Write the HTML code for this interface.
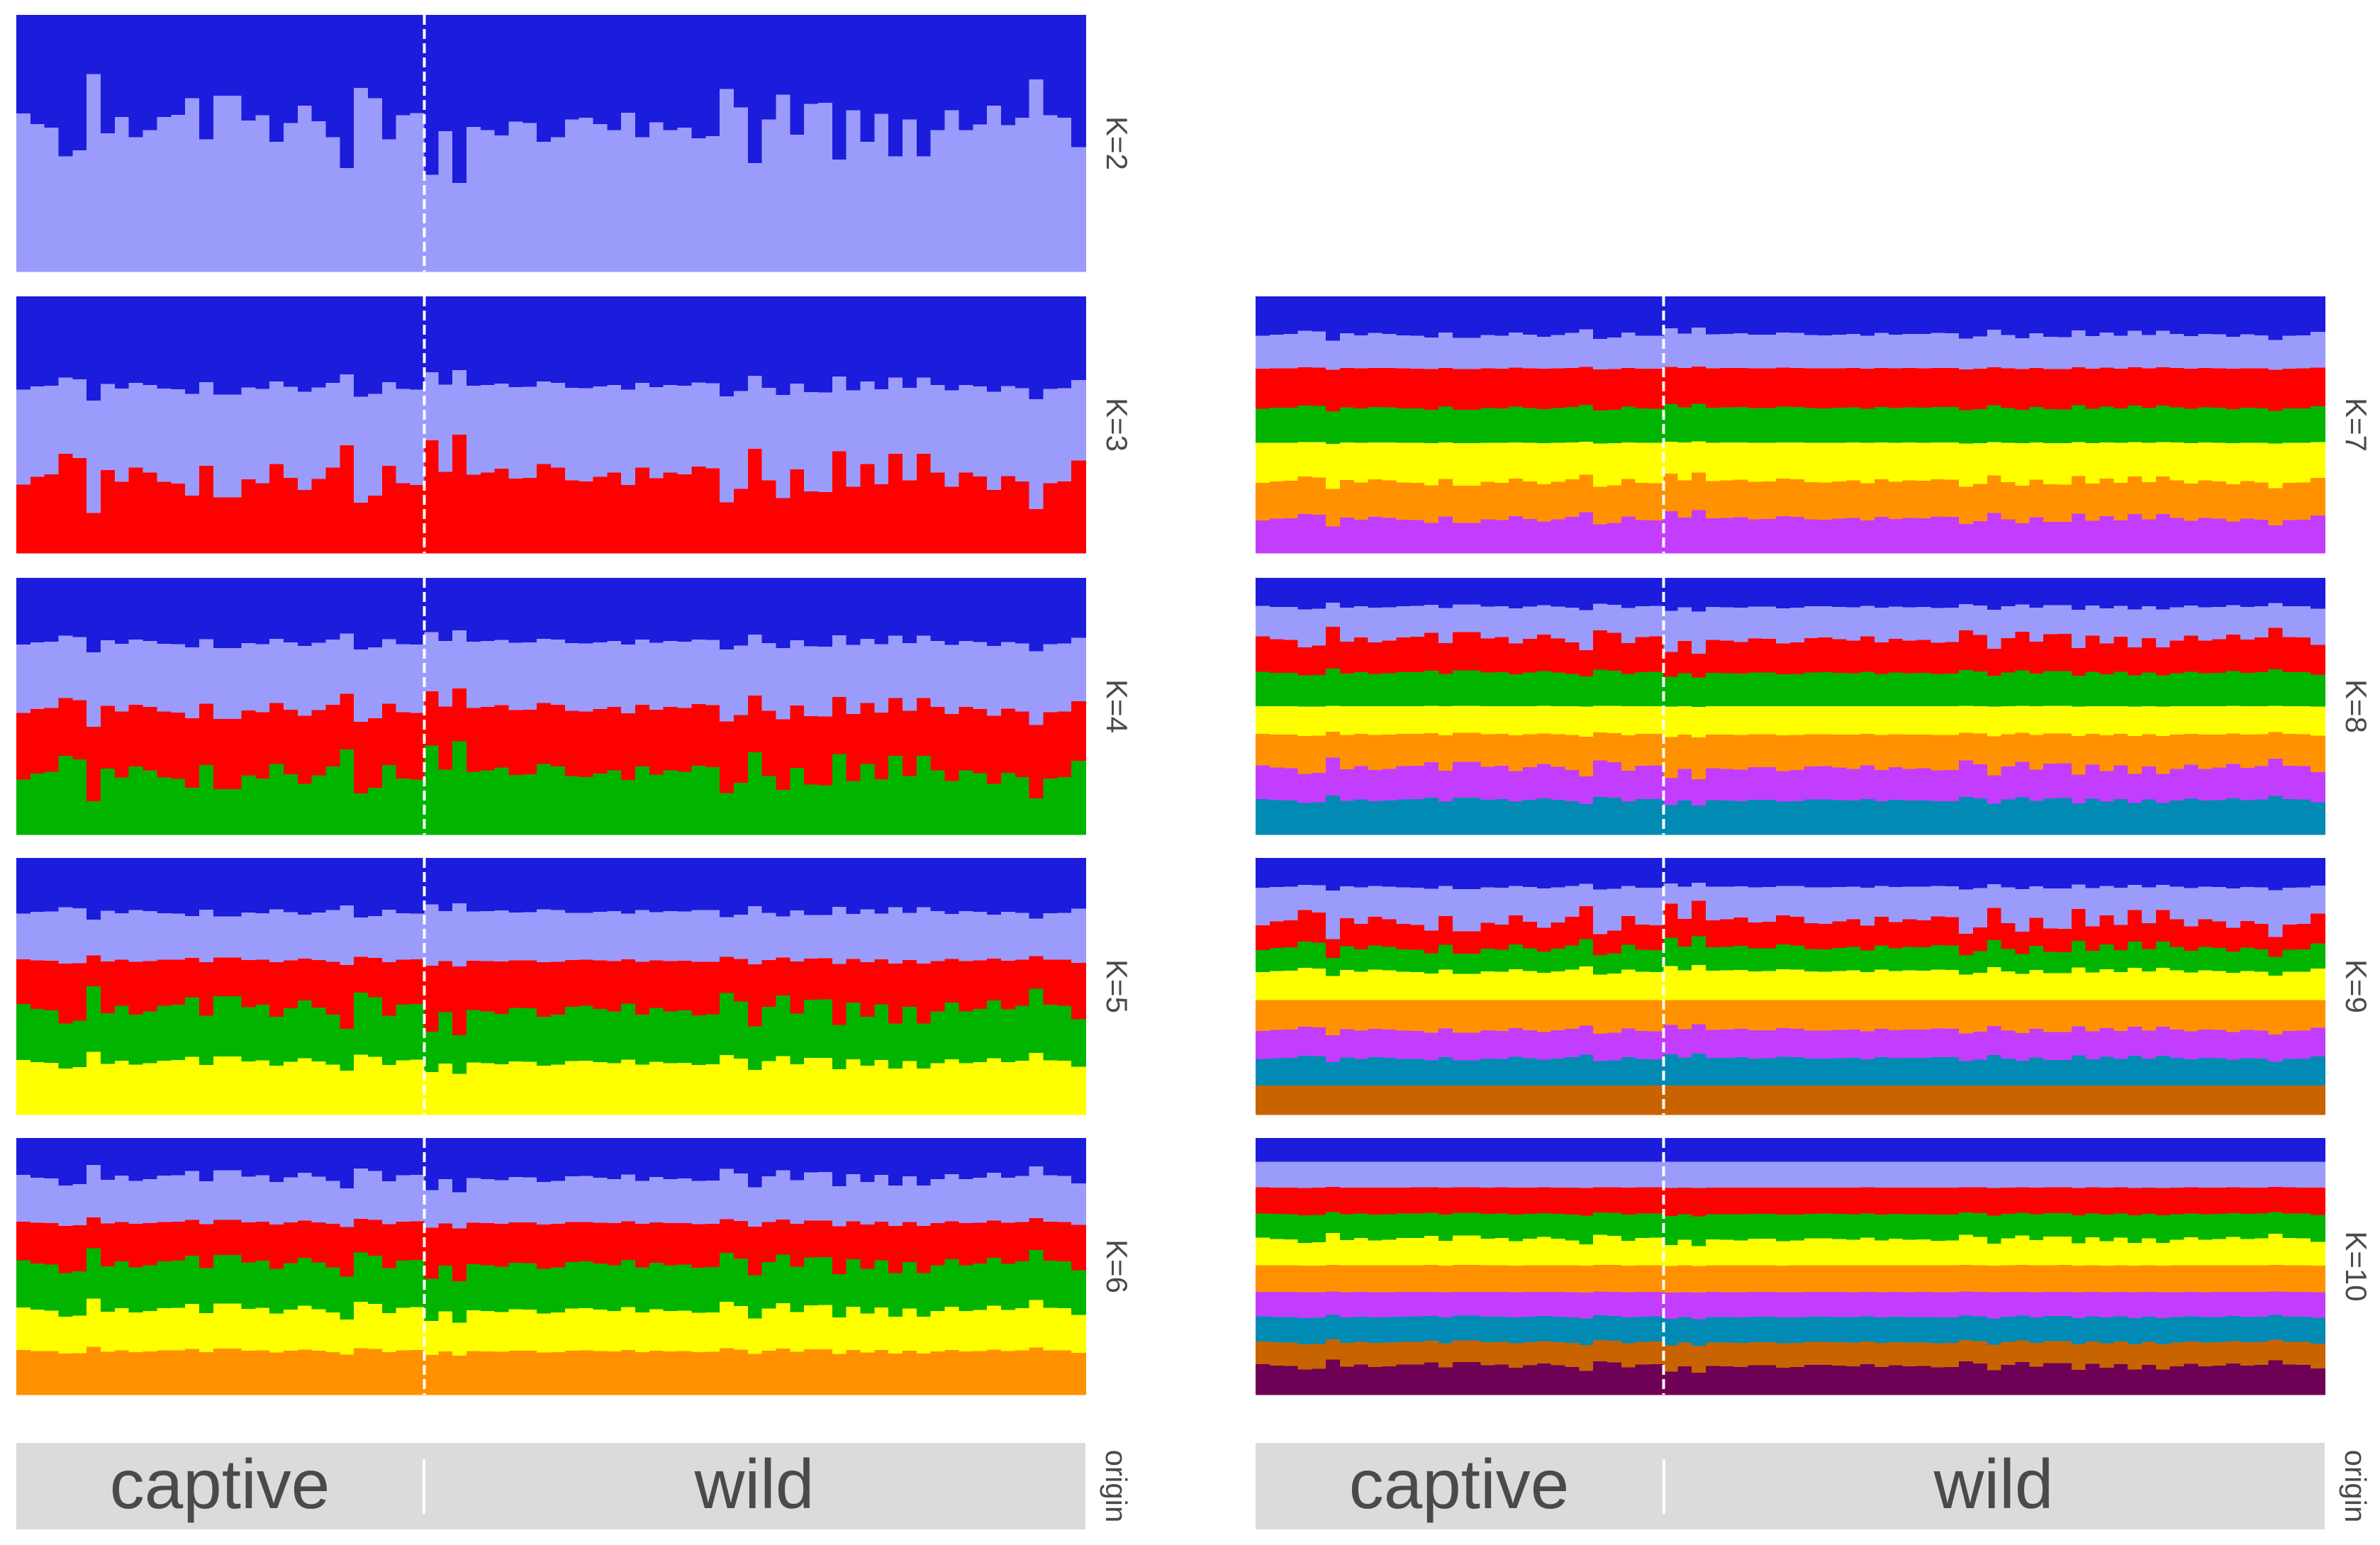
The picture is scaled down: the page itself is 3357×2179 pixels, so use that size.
<!DOCTYPE html>
<html><head><meta charset="utf-8">
<style>
html,body{margin:0;padding:0;background:#fff;}
svg{display:block;}
text{font-family:"Liberation Sans",sans-serif;}
</style></head>
<body>
<svg id="chart" width="3357" height="2179" viewBox="0 0 3357 2179" xmlns="http://www.w3.org/2000/svg" shape-rendering="crispEdges">
<g id="panels"></g>
<g id="strips">
  <rect x="23" y="2035" width="1508" height="122" fill="#dbdbdb"/>
  <line x1="598" y1="2058" x2="598" y2="2135" stroke="#fff" stroke-width="4"/>
  <text x="310" y="2127" font-size="98" fill="#4a4a4a" text-anchor="middle" shape-rendering="auto">captive</text>
  <text x="1064" y="2127" font-size="98" fill="#4a4a4a" text-anchor="middle" shape-rendering="auto">wild</text>
  <text transform="translate(1560,2096) rotate(90)" font-size="42" fill="#4a4a4a" text-anchor="middle" shape-rendering="auto">origin</text>
  <rect x="1771" y="2035" width="1508" height="122" fill="#dbdbdb"/>
  <line x1="2347" y1="2058" x2="2347" y2="2135" stroke="#fff" stroke-width="4"/>
  <text x="2058" y="2127" font-size="98" fill="#4a4a4a" text-anchor="middle" shape-rendering="auto">captive</text>
  <text x="2812" y="2127" font-size="98" fill="#4a4a4a" text-anchor="middle" shape-rendering="auto">wild</text>
  <text transform="translate(3308,2096) rotate(90)" font-size="42" fill="#4a4a4a" text-anchor="middle" shape-rendering="auto">origin</text>
</g>
</svg>
<script>
// K=2: share of cluster 1 (dark blue) per individual, % (29 captive then 47 wild)
const k2DarkShare = [38.4,42.6,43.9,55.1,52.7,23,46.2,39.8,47.6,44.9,39.8,38.9,32.4,48.5,31.5,31.5,41.2,39.1,49.4,42.1,35.4,41.4,47.6,59.7,28.5,32.4,48.5,39.1,38.2,
62.3,45.3,65.5,43.7,44.9,46.9,41.6,42.1,49.4,47.6,40.7,40,42.6,44.9,38.1,47.6,41.8,44.9,43.9,48.1,47.2,28.8,36.1,57.7,40.7,31.1,46.7,34.7,34.3,56.3,37.2,49.4,38.6,55.1,40.7,55.1,44.9,37.2,44.9,42.7,35.4,43,40,25.1,39.1,40,51.5];
const captiveCount = 29;
const k2Center = 43;
// Cumulative boundary means (% from top) and sensitivity to the K=2 profile for each K
const meansK3 = [35,70];            const sensK3 = [-0.28,-0.72];
const meansK4 = [25,51,76];         const sensK4 = [-0.2,-0.35,-0.55];
const meansK5 = [21,40,59,79.6];    const sensK5 = [-0.15,0.1,0.45,0.2];
const meansK6 = [15.5,33,49,67,83]; const sensK6 = [0.25,0.1,0.3,0.22,0.08];
const meansK7 = [14.8,28,43.4,57,72,86.6];         const sensK7 = [-0.12,-0.03,-0.07,-0.02,-0.15,-0.15];
const meansK8 = [11.3,24,37,50,61,74,86.6];        const sensK8 = [0.08,0.25,0.08,0.01,0.05,0.2,0.09];
const meansK9 = [11.3,24.6,35,44,55.4,67,78,88.7]; const sensK9 = [-0.07,-0.35,-0.2,-0.1,0,-0.1,-0.08,0];
const meansK10 = [9.2,19.3,29.6,39.4,49.6,60,69.7,79.6,88.7]; const sensK10 = [0,0.01,0.04,0.12,0.01,0.01,0.04,0.06,0.12];
const clusterColors = ["#1c1cdc","#9b9bfb","#ff0000","#00b400","#ffff00","#ff9100","#c33dff","#008ab4","#c86400","#6e0055"];

const panelLayout = [
  {k:2, x:23, y:21},{k:3, x:23, y:418},{k:4, x:23, y:815},{k:5, x:23, y:1210},{k:6, x:23, y:1605},
  {k:7, x:1771, y:418},{k:8, x:1771, y:815},{k:9, x:1771, y:1210},{k:10, x:1771, y:1605}
];
const PW = 1508, PH = 362;
const NS = "http://www.w3.org/2000/svg";
const meansByK = {3:meansK3,4:meansK4,5:meansK5,6:meansK6,7:meansK7,8:meansK8,9:meansK9,10:meansK10};
const sensByK = {3:sensK3,4:sensK4,5:sensK5,6:sensK6,7:sensK7,8:sensK8,9:sensK9,10:sensK10};

function boundaries(k, i){
  if(k===2) return [k2DarkShare[i]];
  const m = meansByK[k], s = sensByK[k], d = k2DarkShare[i]-k2Center;
  let out = [], prev = 0;
  for(let j=0;j<m.length;j++){
    let v = m[j] + s[j]*d;
    v = Math.max(prev, Math.min(100, v));
    out.push(v); prev = v;
  }
  return out;
}

const root = document.getElementById('panels');
const n = k2DarkShare.length;
panelLayout.forEach(p=>{
  const g = document.createElementNS(NS,'g');
  
  
  root.appendChild(g);
  const bw = PW / n;
  const xs = i => p.x + i*bw;
  const ys = v => p.y + v/100*PH;
  for(let i=0;i<n;i++){
    const b = [0].concat(boundaries(p.k,i)).concat([100]);
    for(let c=0;c<p.k;c++){
      const r = document.createElementNS(NS,'rect');
      r.setAttribute('x', xs(i).toFixed(2));
      r.setAttribute('width', (bw+0.8).toFixed(2));
      r.setAttribute('y', ys(b[c]).toFixed(2));
      r.setAttribute('height', Math.max(0, ys(b[c+1])-ys(b[c])+0.6).toFixed(2));
      r.setAttribute('fill', clusterColors[c]);
      
      
      g.appendChild(r);
    }
  }
  const dx = xs(captiveCount);
  const ln = document.createElementNS(NS,'line');
  ln.setAttribute('x1', dx); ln.setAttribute('x2', dx);
  ln.setAttribute('y1', p.y); ln.setAttribute('y2', p.y+PH);
  ln.setAttribute('stroke', '#ffffff'); ln.setAttribute('stroke-width', '4');
  ln.setAttribute('stroke-dasharray', '14 6');
  
  
  g.appendChild(ln);
  const t = document.createElementNS(NS,'text');
  const lx = p.x + PW + 30, ly = p.y + PH/2;
  t.setAttribute('transform', 'translate(' + lx + ',' + ly + ') rotate(90)');
  t.setAttribute('font-size', '42');
  t.setAttribute('fill', '#4a4a4a');
  t.setAttribute('text-anchor', 'middle');
  t.setAttribute('shape-rendering', 'auto');
  t.textContent = 'K=' + p.k;
  
  
  g.appendChild(t);
});
</script>
</body></html>
